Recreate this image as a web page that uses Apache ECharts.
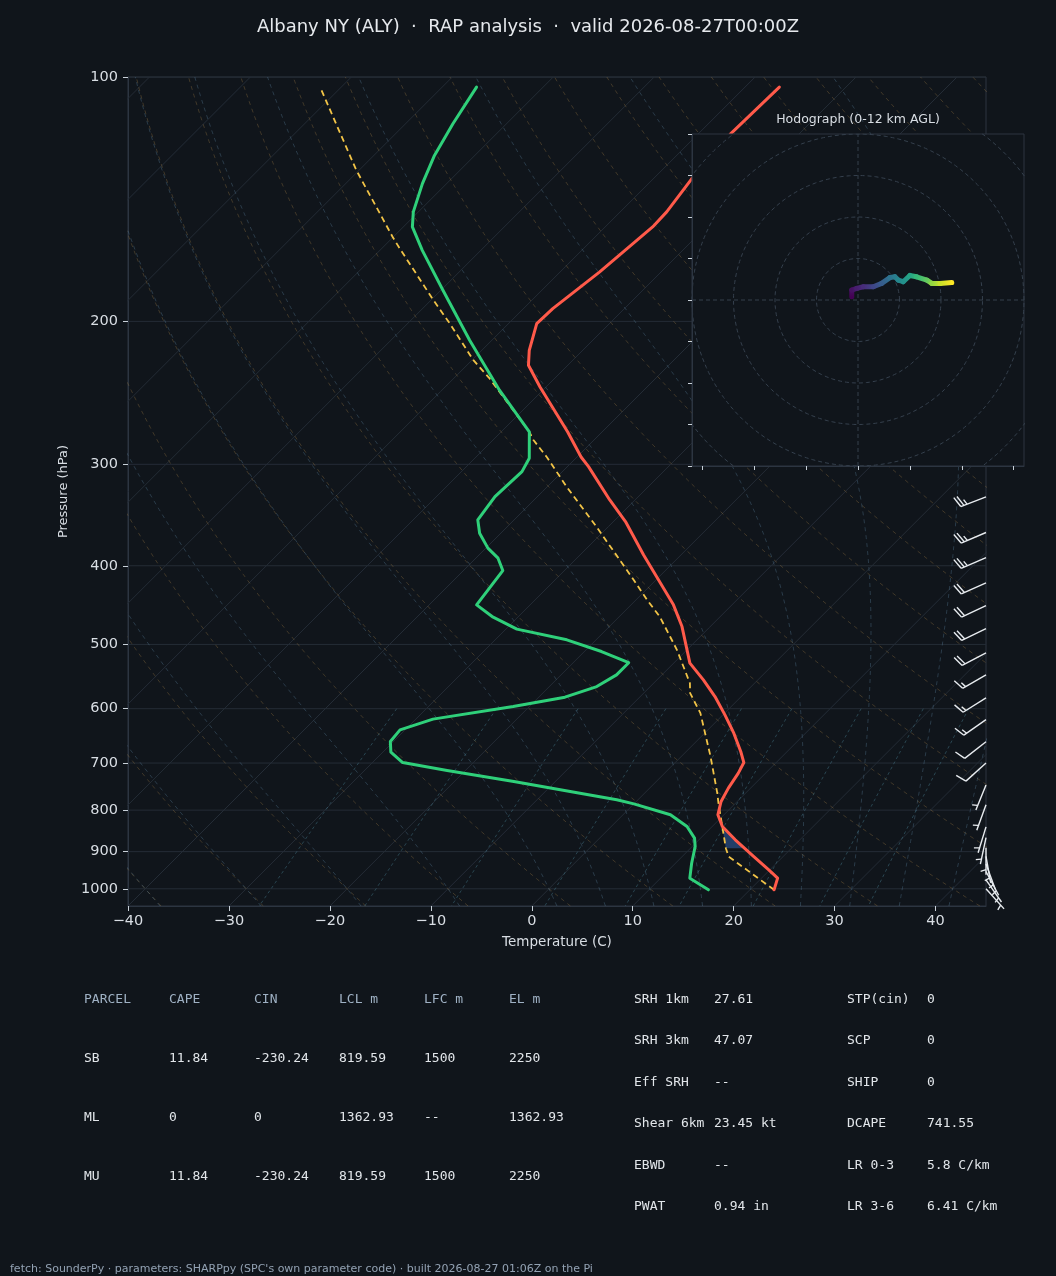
<!DOCTYPE html>
<html>
<head>
<meta charset="utf-8">
<title>Albany NY (ALY) sounding</title>
<script src="https://cdn.jsdelivr.net/npm/echarts@6/dist/echarts.min.js"></script>
<style>
  html, body { margin: 0; padding: 0; background: #10151b; }
  #chart { width: 1056px; height: 1276px; }
</style>
</head>
<body>
<div id="chart"></div>
<script>
// profiles: pressure (hPa) and temperature (C)
var tempP = [1002.9, 970.3, 947.7, 912.6, 870.2, 837.9, 810.6, 780.6, 751.6, 720.3, 699.0, 677.5, 643.2, 610.6,
  579.7, 552.9, 527.2, 475.3, 446.9, 387.9, 352.9, 331.9, 302.0, 293.8, 273.7, 240.9, 226.5, 217.1, 201.3,
  192.9, 173.9, 153.0, 146.6, 133.4, 117.5, 102.9];
var tempC = [22.4, 21.6, 19.9, 17.1, 13.6, 11.0, 9.4, 8.4, 7.8, 7.3, 6.8, 5.4, 2.9, 0.2,
  -2.6, -5.4, -8.4, -12.8, -15.8, -23.7, -28.8, -32.5, -37.9, -39.6, -43.4, -50.6, -53.9, -55.3, -57.2,
  -57.1, -56.1, -55.3, -55.4, -56.2, -56.8, -56.6];

var dewP = [1002.9, 970.3, 930.0, 887.1, 866.1, 837.9, 810.6, 786.0, 776.9, 762.4, 737.8, 715.1, 699.0, 678.7,
  658.6, 637.1, 618.0, 596.4, 580.7, 563.5, 545.1, 526.6, 510.2, 493.5, 478.8, 462.0, 446.9, 405.5, 391.5,
  380.5, 364.7, 351.2, 328.8, 306.3, 294.9, 273.7, 243.1, 211.0, 183.1, 163.5, 153.0, 146.6, 135.3, 124.9,
  114.2, 102.9];
var dewC = [15.9, 12.9, 11.6, 10.3, 9.4, 7.5, 4.7, 0.0, -2.1, -6.4, -14.1, -21.8, -27.0, -29.2,
  -30.3, -30.5, -28.3, -21.6, -17.4, -15.3, -14.5, -14.5, -18.3, -22.9, -28.9, -32.6, -35.3, -36.1, -37.8,
  -39.8, -42.1, -43.6, -44.2, -44.0, -44.6, -47.2, -54.3, -62.2, -69.8, -75.8, -79.1, -80.5, -82.4, -84.0,
  -85.3, -86.6];

var parcelP = [1002.9, 912.6, 891.2, 784.2, 762.4, 687.1, 607.6, 574.1, 558.2, 507.7, 488.9, 462.0, 440.7,
  416.4, 357.9, 319.6, 293.8, 280.0, 273.7, 235.3, 223.1, 201.3, 188.2, 162.7, 157.3, 130.2, 103.3];
var parcelC = [22.4, 14.6, 13.5, 8.3, 7.2, 2.9, -2.4, -5.4, -6.4, -11.0, -13.0, -16.0, -18.9,
  -22.2, -31.2, -38.1, -43.0, -46.0, -47.2, -56.4, -59.9, -65.8, -69.8, -78.2, -80.1, -90.3, -101.9];

// wind barbs: pressure (hPa), direction (deg), speed (kt)
var barbP = [329, 364, 391, 420, 448, 478, 512, 545, 582, 619, 659, 700,
  745, 788, 839, 865, 890, 912, 932, 952, 975, 1000];
var barbDir = [249, 247, 247, 246, 245, 244, 242, 240, 238, 235, 232, 228,
  202, 200, 197, 192, 180, 170, 160, 152, 145, 138];
var barbKt = [25, 25, 25, 20, 20, 20, 20, 15, 15, 15, 10, 10,
  5, 5, 5, 5, 5, 5, 5, 5, 5, 5];

// hodograph: u, v (kt) and height (km AGL)
var hodoU = [-1.5, -1.5, -0.3, 1.3, 3.7, 5.7, 7.7, 8.9, 9.7, 10.9, 12.5, 14.1, 16.6, 17.8, 19.8, 22.6];
var hodoV = [0.8, 2.4, 2.8, 3.2, 3.2, 4.0, 5.4, 5.6, 4.8, 4.4, 5.9, 5.6, 4.8, 4.0, 4.0, 4.2];
var hodoH = [0, 0.5, 1, 1.5, 2.5, 3.5, 4.5, 5, 5.5, 6, 7, 8, 9, 10, 11, 12];

var tempTicks = [-40, -30, -20, -10, 0, 10, 20, 30, 40];
var presTicks = [100, 200, 300, 400, 500, 600, 700, 800, 900, 1000];
var hodoXTicks = [-37.5, -25, -12.5, 0, 12.5, 25, 37.5];
var hodoRings = [10, 20, 30, 40, 50];

var parcelHead = ['PARCEL', 'CAPE', 'CIN', 'LCL m', 'LFC m', 'EL m'];
var parcelRows = [
  ['SB', '11.84', '-230.24', '819.59', '1500', '2250'],
  ['ML', '0', '0', '1362.93', '--', '1362.93'],
  ['MU', '11.84', '-230.24', '819.59', '1500', '2250']
];
var indexLeft = [['SRH 1km', '27.61'], ['SRH 3km', '47.07'], ['Eff SRH', '--'],
  ['Shear 6km', '23.45 kt'], ['EBWD', '--'], ['PWAT', '0.94 in']];
var indexRight = [['STP(cin)', '0'], ['SCP', '0'], ['SHIP', '0'],
  ['DCAPE', '741.55'], ['LR 0-3', '5.8 C/km'], ['LR 3-6', '6.41 C/km']];

var BG = '#10151b', FRAME = '#2c3541', GRIDC = '#242c36', TXT = '#d9dee4';
var SANS = '"DejaVu Sans", sans-serif', MONO = '"DejaVu Sans Mono", monospace';

var GL = 128, GT = 77, GW = 858, GH = 829;
var P_BOT = 1050, P_TOP = 100, T_MIN = -40, T_MAX = 45;
// 45 degree skew on screen
var SKEW = (T_MAX - T_MIN) * GH / GW;

function skewX(t, p) {
  return t + SKEW * Math.log(P_BOT / p) / Math.log(P_BOT / P_TOP);
}

function interpP(P, V, p) {
  for (var i = 0; i < P.length - 1; i++) {
    if (P[i] >= p && p >= P[i + 1]) {
      var f = Math.log(P[i] / p) / Math.log(P[i] / P[i + 1]);
      return V[i] + f * (V[i + 1] - V[i]);
    }
  }
  return NaN;
}

// background thermodynamic lines
var levels = [];
for (var i = 0; i <= 90; i++) levels.push(P_BOT * Math.pow(P_TOP / P_BOT, i / 90));

function dTdlnp(T, p) {
  var es = 6.112 * Math.exp(17.67 * (T - 273.15) / (T - 29.65));
  var rs = 0.622 * es / (p - es);
  return (287.04 * T + 2.501e6 * rs) / (1005.7 + 2.501e6 * 2.501e6 * rs * 0.622 / (287.04 * T * T));
}
function moistT(t0, p) {
  var T = t0 + 273.15, lp = Math.log(1000), lt = Math.log(p);
  var n = Math.max(1, Math.ceil(Math.abs(lt - lp) / 0.005)), h = (lt - lp) / n;
  for (var k = 0; k < n; k++) {
    var pp = Math.exp(lp);
    var k1 = dTdlnp(T, pp);
    var k2 = dTdlnp(T + h * k1 / 2, Math.exp(lp + h / 2));
    var k3 = dTdlnp(T + h * k2 / 2, Math.exp(lp + h / 2));
    var k4 = dTdlnp(T + h * k3, Math.exp(lp + h));
    T += h * (k1 + 2 * k2 + 2 * k3 + k4) / 6;
    lp += h;
  }
  return T - 273.15;
}

function bgLine(points, color, dash, width) {
  return {
    type: 'line', xAxisIndex: 0, yAxisIndex: 0, data: points, symbol: 'none',
    silent: true, animation: false, z: 1,
    lineStyle: { color: color, width: width, type: dash }
  };
}

var series = [];

presTicks.forEach(function (p) {
  series.push(bgLine([[T_MIN, p], [T_MAX, p]], GRIDC, 'solid', 1));
});
for (var t = -120; t <= 40; t += 10) {
  series.push(bgLine([[skewX(t, P_BOT), P_BOT], [skewX(t, P_TOP), P_TOP]], GRIDC, 'solid', 1));
}
for (var th = -40; th <= 240; th += 10) {
  series.push(bgLine(levels.map(function (p) {
    return [skewX((th + 273.15) * Math.pow(p / 1000, 0.2857) - 273.15, p), p];
  }), 'rgba(160,125,70,0.38)', [4, 4], 0.9));
}
[-40, -30, -20, -10, 0, 5, 10, 15, 20, 25, 30, 35, 40, 45].forEach(function (t0) {
  series.push(bgLine(levels.map(function (p) {
    return [skewX(moistT(t0, p), p), p];
  }), 'rgba(95,135,165,0.38)', [4, 4], 0.9));
});
[0.0004, 0.001, 0.002, 0.004, 0.007, 0.01, 0.016, 0.024, 0.032].forEach(function (w) {
  var pts = [];
  for (var k = 0; k <= 20; k++) {
    var p = 600 + (P_BOT - 600) * k / 20;
    var e = p * w / (0.622 + w), l = Math.log(e / 6.112);
    pts.push([skewX(243.5 * l / (17.67 - l), p), p]);
  }
  series.push(bgLine(pts, 'rgba(80,140,160,0.45)', [3, 3], 0.9));
});

// CIN shading between the parcel and the environment above the LCL
var cinBottom = parcelP[2];
var cinTop = cinBottom;
while (cinTop > 700 && interpP(parcelP, parcelC, cinTop) < interpP(tempP, tempC, cinTop)) cinTop *= 0.999;
var cinPoly = [];
for (var k = 0; k <= 20; k++) {
  var pk = cinBottom * Math.pow(cinTop / cinBottom, k / 20);
  cinPoly.push([skewX(interpP(parcelP, parcelC, pk), pk), pk]);
}
for (var k = 20; k >= 0; k--) {
  var pk = cinBottom * Math.pow(cinTop / cinBottom, k / 20);
  cinPoly.push([skewX(interpP(tempP, tempC, pk), pk), pk]);
}
series.push({
  type: 'custom', xAxisIndex: 0, yAxisIndex: 0, z: 2, silent: true, animation: false,
  data: [[0, 500]],
  renderItem: function (params, api) {
    return {
      type: 'polygon',
      shape: { points: cinPoly.map(function (d) { return api.coord(d); }) },
      style: { fill: 'rgba(40,75,130,0.75)' }
    };
  }
});

series.push({
  type: 'line', name: 'Parcel', xAxisIndex: 0, yAxisIndex: 0, z: 3, symbol: 'none', silent: true,
  data: parcelP.map(function (p, i) { return [skewX(parcelC[i], p), p]; }),
  lineStyle: { color: '#f2c447', width: 1.8, type: [6, 4] }
});
series.push({
  type: 'line', name: 'Temperature', xAxisIndex: 0, yAxisIndex: 0, z: 4, symbol: 'none', silent: true,
  data: tempP.map(function (p, i) { return [skewX(tempC[i], p), p]; }),
  lineStyle: { color: '#ff5a4a', width: 3, cap: 'round', join: 'round' }
});
series.push({
  type: 'line', name: 'Dewpoint', xAxisIndex: 0, yAxisIndex: 0, z: 4, symbol: 'none', silent: true,
  data: dewP.map(function (p, i) { return [skewX(dewC[i], p), p]; }),
  lineStyle: { color: '#2fd07a', width: 3, cap: 'round', join: 'round' }
});

// wind barbs along the right edge
series.push({
  type: 'custom', xAxisIndex: 0, yAxisIndex: 0, z: 5, clip: false, silent: true, animation: false,
  data: barbP.map(function (p, i) { return [T_MAX, p, barbDir[i], barbKt[i]]; }),
  encode: { x: 0, y: 1 },
  renderItem: function (params, api) {
    var b = api.coord([api.value(0), api.value(1)]);
    var a = api.value(2) * Math.PI / 180;
    var spd = Math.round(api.value(3) / 5) * 5;
    var L = 27, sp = 0.125 * L, h = 0.4 * L, w = 0.25 * L;
    var dx = Math.sin(a), dy = -Math.cos(a), px = -dy, py = dx;
    var st = { stroke: '#e8ecf0', lineWidth: 1.4, fill: null };
    var kids = [{ type: 'line', shape: { x1: b[0], y1: b[1], x2: b[0] + dx * L, y2: b[1] + dy * L }, style: st }];
    var n50 = Math.floor(spd / 50), rem = spd - 50 * n50;
    var n10 = Math.floor(rem / 10), half = rem - 10 * n10 >= 5;
    var off = L;
    for (var k = 0; k < n50; k++) {
      kids.push({ type: 'polygon', shape: { points: [
        [b[0] + dx * off, b[1] + dy * off],
        [b[0] + dx * (off - w / 2) + px * h, b[1] + dy * (off - w / 2) + py * h],
        [b[0] + dx * (off - w), b[1] + dy * (off - w)]] }, style: { fill: '#e8ecf0' } });
      off -= w + sp;
    }
    for (var k = 0; k < n10; k++) {
      kids.push({ type: 'line', shape: {
        x1: b[0] + dx * off, y1: b[1] + dy * off,
        x2: b[0] + dx * (off + w / 2) + px * h, y2: b[1] + dy * (off + w / 2) + py * h }, style: st });
      off -= sp;
    }
    if (half) {
      if (off === L) off -= 1.5 * sp;
      kids.push({ type: 'line', shape: {
        x1: b[0] + dx * off, y1: b[1] + dy * off,
        x2: b[0] + dx * (off + w / 4) + px * h / 2, y2: b[1] + dy * (off + w / 4) + py * h / 2 }, style: st });
    }
    return { type: 'group', children: kids };
  }
});

// hodograph inset
series.push({
  type: 'custom', xAxisIndex: 1, yAxisIndex: 1, z: 10, clip: false, silent: true, animation: false,
  data: [[0, 0]],
  renderItem: function (params) {
    var cs = params.coordSys;
    return { type: 'rect', shape: { x: cs.x, y: cs.y, width: cs.width, height: cs.height },
      style: { fill: BG, stroke: FRAME, lineWidth: 1 } };
  }
});
hodoRings.forEach(function (r) {
  var pts = [];
  for (var k = 0; k <= 180; k++) {
    var ang = 2 * Math.PI * k / 180;
    pts.push([r * Math.cos(ang), r * Math.sin(ang)]);
  }
  series.push({ type: 'line', xAxisIndex: 1, yAxisIndex: 1, z: 11, symbol: 'none', silent: true,
    data: pts, lineStyle: { color: '#35404d', width: 1, type: [4, 3] } });
});
series.push({ type: 'line', xAxisIndex: 1, yAxisIndex: 1, z: 11, symbol: 'none', silent: true,
  data: [[-40, 0], [40, 0]], lineStyle: { color: '#35404d', width: 1, type: [4, 3] } });
series.push({ type: 'line', xAxisIndex: 1, yAxisIndex: 1, z: 11, symbol: 'none', silent: true,
  data: [[0, -40], [0, 40]], lineStyle: { color: '#35404d', width: 1, type: [4, 3] } });

var VIRIDIS = ['#440154', '#482878', '#3e4989', '#31688e', '#26828e', '#1f9e89', '#35b779', '#6ece58', '#b5de2b', '#fde725'];
function viridis(f) {
  f = Math.max(0, Math.min(1, f));
  var x = f * (VIRIDIS.length - 1), i = Math.min(Math.floor(x), VIRIDIS.length - 2), t = x - i;
  var c0 = parseInt(VIRIDIS[i].slice(1), 16), c1 = parseInt(VIRIDIS[i + 1].slice(1), 16);
  var r = Math.round(((c0 >> 16) & 255) * (1 - t) + ((c1 >> 16) & 255) * t);
  var g = Math.round(((c0 >> 8) & 255) * (1 - t) + ((c1 >> 8) & 255) * t);
  var bl = Math.round((c0 & 255) * (1 - t) + (c1 & 255) * t);
  return 'rgb(' + r + ',' + g + ',' + bl + ')';
}
var hodoSegs = [];
for (var i = 0; i < hodoU.length - 1; i++) {
  hodoSegs.push([hodoU[i], hodoV[i], hodoU[i + 1], hodoV[i + 1], hodoH[i], hodoH[i + 1]]);
}
series.push({
  type: 'custom', xAxisIndex: 1, yAxisIndex: 1, z: 12, silent: true, animation: false,
  data: hodoSegs, encode: { x: [0, 2], y: [1, 3] },
  renderItem: function (params, api) {
    var p1 = api.coord([api.value(0), api.value(1)]);
    var p2 = api.coord([api.value(2), api.value(3)]);
    var grad = new echarts.graphic.LinearGradient(p1[0], p1[1], p2[0], p2[1] + 0.01, [
      { offset: 0, color: viridis(api.value(4) / 12) },
      { offset: 1, color: viridis(api.value(5) / 12) }], true);
    return { type: 'line', shape: { x1: p1[0], y1: p1[1], x2: p2[0], y2: p2[1] },
      style: { stroke: grad, lineWidth: 5, lineCap: 'round' } };
  }
});

// texts
var graphics = [];
function addText(x, y, s, color, font, align) {
  graphics.push({ type: 'text', x: x, y: y, z: 20, silent: true,
    style: { text: s, fill: color, font: font, textAlign: align || 'left', align: align || 'left',
      textVerticalAlign: 'middle', verticalAlign: 'middle' } });
}
addText(528, 27, 'Albany NY (ALY)  \u00b7  RAP analysis  \u00b7  valid 2026-08-27T00:00Z', '#e6e9ed', '18px ' + SANS, 'center');
addText(858, 120, 'Hodograph (0-12 km AGL)', TXT, '12.5px ' + SANS, 'center');

var colX = [84, 169, 254, 339, 424, 509];
var rowY = [1059, 1118, 1177];
parcelHead.forEach(function (s, j) { addText(colX[j], 1000, s, '#9fb1c4', '13px ' + MONO); });
parcelRows.forEach(function (row, r) {
  row.forEach(function (s, j) { addText(colX[j], rowY[r], s, '#e2e6ea', '13px ' + MONO); });
});
var idxY = [1000, 1041, 1083, 1124, 1166, 1207];
indexLeft.forEach(function (pair, r) {
  addText(634, idxY[r], pair[0], '#e2e6ea', '13px ' + MONO);
  addText(714, idxY[r], pair[1], '#e2e6ea', '13px ' + MONO);
});
indexRight.forEach(function (pair, r) {
  addText(847, idxY[r], pair[0], '#e2e6ea', '13px ' + MONO);
  addText(927, idxY[r], pair[1], '#e2e6ea', '13px ' + MONO);
});
addText(10, 1269, 'fetch: SounderPy \u00b7 parameters: SHARPpy (SPC\'s own parameter code) \u00b7 built 2026-08-27 01:06Z on the Pi',
  '#93a2b3', '11px ' + SANS);

var chart = echarts.init(document.getElementById('chart'));
chart.setOption({
  backgroundColor: BG,
  animation: false,
  grid: [
    { left: GL, top: GT, width: GW, height: GH, show: true, borderColor: FRAME, borderWidth: 1,
      backgroundColor: 'transparent', containLabel: false, outerBoundsMode: 'none' },
    { left: 692, top: 134, width: 332, height: 332, containLabel: false, outerBoundsMode: 'none' }
  ],
  xAxis: [
    { gridIndex: 0, type: 'value', min: T_MIN, max: T_MAX,
      name: 'Temperature (C)', nameLocation: 'middle', nameGap: 29,
      nameTextStyle: { color: TXT, fontSize: 13.5, fontFamily: SANS },
      axisLine: { show: true, onZero: false, lineStyle: { color: FRAME } },
      axisTick: { show: true, length: 5, customValues: tempTicks, lineStyle: { color: '#c9d1d9' } },
      axisLabel: { customValues: tempTicks, color: TXT, fontSize: 14.5, fontFamily: SANS, margin: 8,
        formatter: function (v) { return v < 0 ? '\u2212' + Math.abs(v) : String(v); } },
      splitLine: { show: false } },
    { gridIndex: 1, type: 'value', min: -40, max: 40, z: 13,
      axisLine: { show: true, onZero: false, lineStyle: { color: FRAME } },
      axisTick: { show: true, length: 4, customValues: hodoXTicks, lineStyle: { color: '#c9d1d9' } },
      axisLabel: { show: false }, splitLine: { show: false } }
  ],
  yAxis: [
    { gridIndex: 0, type: 'log', logBase: 10, min: P_TOP, max: P_BOT, inverse: true,
      name: 'Pressure (hPa)', nameLocation: 'middle', nameGap: 53, nameRotate: 90,
      nameTextStyle: { color: TXT, fontSize: 13, fontFamily: SANS },
      axisLine: { show: true, onZero: false, lineStyle: { color: FRAME } },
      axisTick: { show: true, length: 5, customValues: presTicks, lineStyle: { color: '#c9d1d9' } },
      axisLabel: { customValues: presTicks, color: TXT, fontSize: 14.5, fontFamily: SANS, margin: 10,
        formatter: function (v) { return String(Math.round(v)); } },
      splitLine: { show: false } },
    { gridIndex: 1, type: 'value', min: -40, max: 40, interval: 10, z: 13,
      axisLine: { show: true, onZero: false, lineStyle: { color: FRAME } },
      axisTick: { show: true, length: 4, lineStyle: { color: '#c9d1d9' } },
      axisLabel: { show: false }, splitLine: { show: false } }
  ],
  graphic: graphics,
  series: series
});
</script>
</body>
</html>
